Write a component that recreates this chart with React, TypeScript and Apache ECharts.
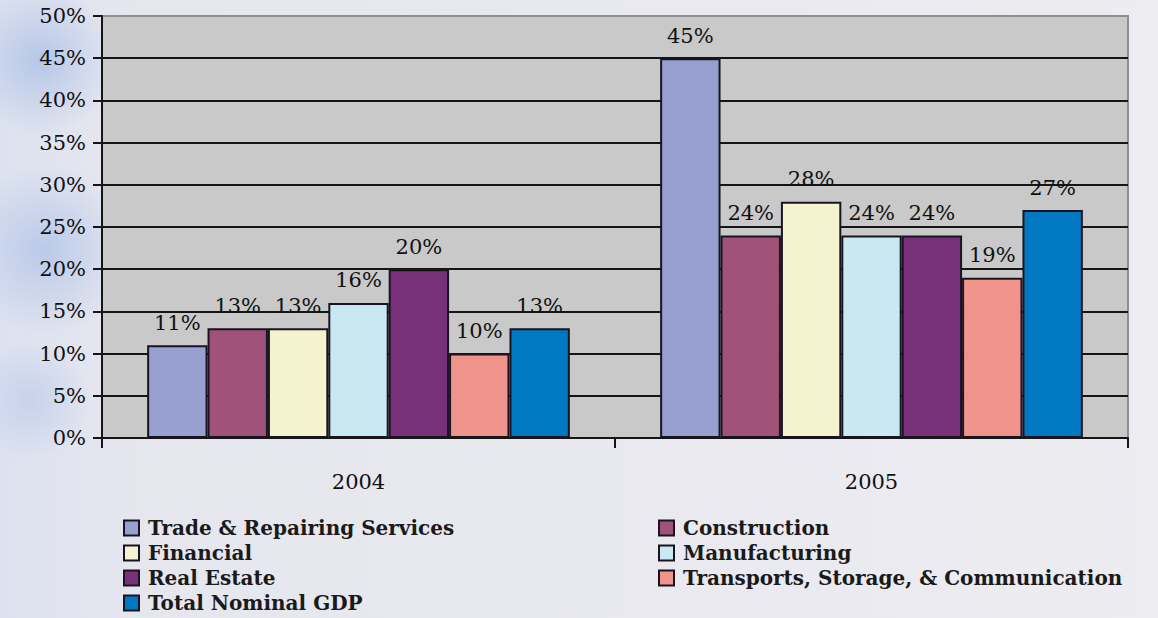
import React, { useEffect, useRef } from "react";
import * as echarts from "echarts";

const years = ["2004", "2005"];
const seriesNames = [
  "Trade & Repairing Services",
  "Construction",
  "Financial",
  "Manufacturing",
  "Real Estate",
  "Transports, Storage, & Communication",
  "Total Nominal GDP",
];
const trade = [11, 45];
const construction = [13, 24];
const financial = [13, 28];
const manufacturing = [16, 24];
const realEstate = [20, 24];
const transports = [10, 19];
const totalGdp = [13, 27];
const yTicks = [0, 5, 10, 15, 20, 25, 30, 35, 40, 45, 50];

const seriesValues = [trade, construction, financial, manufacturing, realEstate, transports, totalGdp];
const colors = ["#97a0d0", "#a05278", "#f5f2d0", "#c8e8f2", "#78307a", "#f0938a", "#0078c2"];
const legendLeft = [seriesNames[0], seriesNames[2], seriesNames[4], seriesNames[6]];
const legendRight = [seriesNames[1], seriesNames[3], seriesNames[5]];

const FONT = "'DejaVu Serif', 'Liberation Serif', serif";

export default function App() {
  const ref = useRef<HTMLDivElement>(null);
  useEffect(() => {
    if (!ref.current) return;
    const chart = echarts.init(ref.current, undefined, { renderer: "svg" });
    const blob = (cx: number, cy: number, r: number, a: number) => ({
      type: "circle",
      shape: { cx, cy, r },
      style: {
        fill: {
          type: "radial", x: 0.5, y: 0.5, r: 0.5,
          colorStops: [
            { offset: 0, color: `rgba(140,170,225,${a})` },
            { offset: 1, color: "rgba(140,170,225,0)" },
          ],
        },
      },
      silent: true,
      z: -10,
    });
    const legendCommon = {
      orient: "vertical" as const,
      icon: "rect",
      itemWidth: 15,
      itemHeight: 15,
      itemGap: 5,
      padding: 0,
      selectedMode: false,
      textStyle: {
        fontFamily: FONT,
        fontSize: 20,
        fontWeight: "bold",
        color: "#1a1a1a",
        lineHeight: 20,
        padding: [0, 0, 0, 4],
      },
    };
    chart.setOption({
      animation: false,
      backgroundColor: {
        type: "linear",
        x: 0, y: 0, x2: 1, y2: 0,
        colorStops: [
          { offset: 0, color: "#dde2f0" },
          { offset: 0.12, color: "#e6e6ee" },
          { offset: 1, color: "#ececf1" },
        ],
      },
      graphic: [
        blob(40, 60, 75, 0.5),
        blob(45, 250, 85, 0.45),
        blob(30, 400, 60, 0.3),
      ],
      grid: {
        left: 102,
        top: 16,
        right: 30,
        bottom: 180,
        show: true,
        backgroundColor: "#c9c9c9",
        borderColor: "#8e8e8e",
        borderWidth: 2,
        containLabel: false,
      },
      legend: [
        { ...legendCommon, left: 123, top: 518, data: legendLeft },
        { ...legendCommon, left: 658, top: 518, data: legendRight },
      ],
      xAxis: {
        type: "category",
        data: years,
        axisLine: { show: true, lineStyle: { color: "#151515", width: 2 } },
        axisTick: { show: true, length: 10, alignWithLabel: false, lineStyle: { color: "#151515", width: 2 } },
        axisLabel: { margin: 33, fontFamily: FONT, fontSize: 21, color: "#111" },
        splitLine: { show: false },
      },
      yAxis: {
        type: "value",
        min: 0,
        max: 50,
        interval: 5,
        axisLine: { show: true, lineStyle: { color: "#151515", width: 2 } },
        axisTick: { show: true, length: 9, lineStyle: { color: "#151515", width: 2 } },
        axisLabel: {
          margin: 16,
          fontFamily: FONT,
          fontSize: 21,
          color: "#111",
          formatter: (v: number) => (yTicks.includes(v) ? v + "%" : ""),
        },
        splitLine: {
          show: true,
          lineStyle: {
            color: [
              "#151515", "#151515", "#151515", "#151515", "#151515",
              "#151515", "#151515", "#151515", "#151515", "#151515", "#8e8e8e",
            ],
            width: 2,
          },
        },
      },
      series: seriesNames.map((name, i) => ({
        name,
        type: "bar",
        data: seriesValues[i],
        barGap: "0%",
        barCategoryGap: "17.6%",
        itemStyle: { color: colors[i], borderColor: "#1a1420", borderWidth: 2 },
        label: {
          show: true,
          position: "top",
          distance: 12,
          formatter: "{c}%",
          fontFamily: FONT,
          fontSize: 21,
          color: "#111",
        },
      })),
    });
    return () => chart.dispose();
  }, []);
  return <div ref={ref} style={{ position: "fixed", left: 0, top: 0, width: 1158, height: 618 }} />;
}
